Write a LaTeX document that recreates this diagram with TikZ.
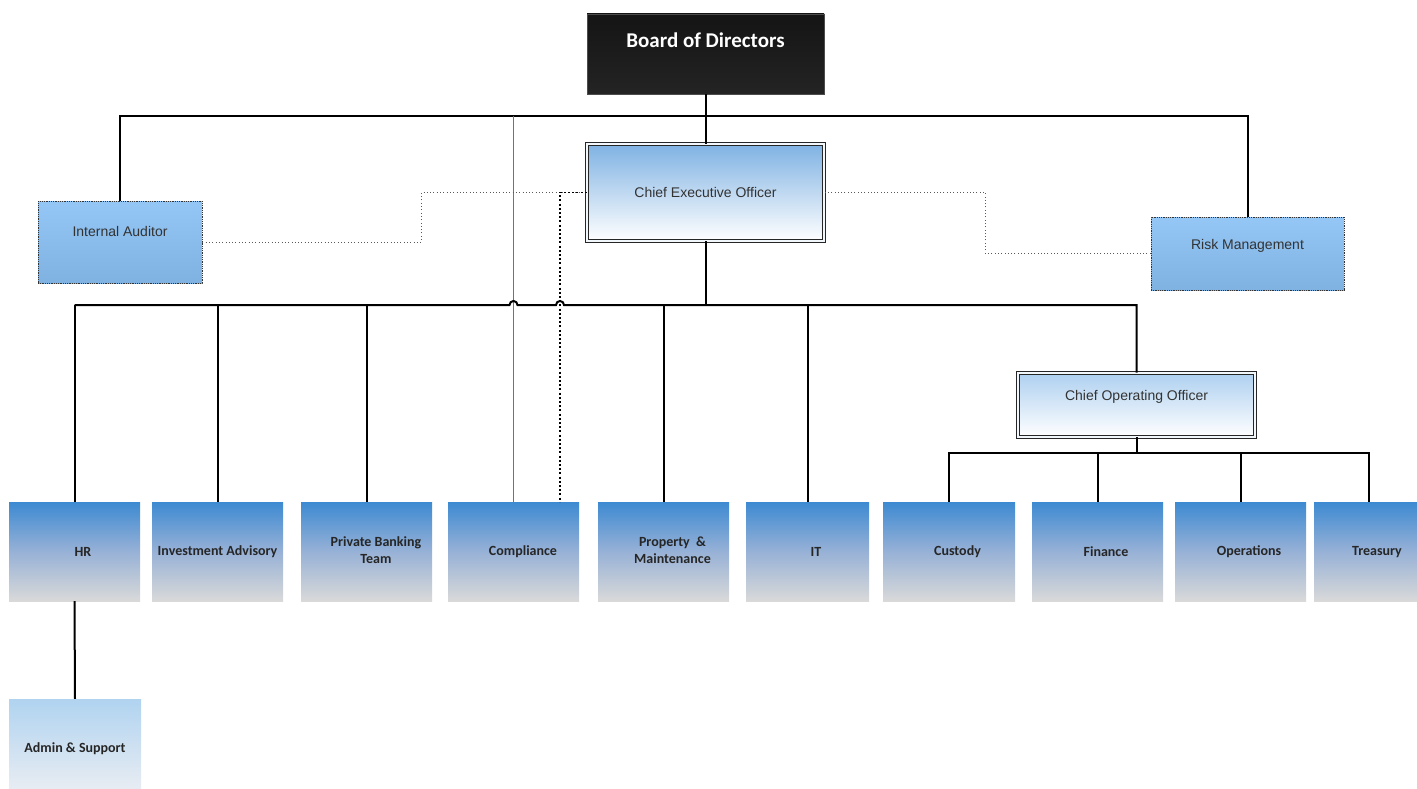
\documentclass[tikz,border=0pt]{standalone}
\usepackage{fontspec}
\setmainfont{Liberation Sans}
\newfontfamily\calibri{Carlito}
\usetikzlibrary{calc}
\definecolor{unittop}{HTML}{3D8AD2}
\definecolor{unitmid}{HTML}{97B1D6}
\definecolor{unitbot}{HTML}{D9D9D9}
\definecolor{ceotop}{HTML}{7FB2E3}
\definecolor{iatop}{HTML}{94C6F6}
\definecolor{iabot}{HTML}{7FB1E1}
\definecolor{cootop}{HTML}{AED0F0}
\definecolor{admtop}{HTML}{B0D3F0}
\definecolor{admbot}{HTML}{EDEFF3}
\newcommand\ustrut{\rule[-1pt]{0pt}{12pt}}
\begin{document}
\begin{tikzpicture}[x=1pt,y=-1pt,
  conn/.style={line width=2pt, black},
  greyline/.style={line width=1.5pt, black!55},
  thickdot/.style={line width=1.8pt, black, dash pattern=on 2pt off 2.2pt},
  thindot/.style={line width=0.8pt, black!65, dash pattern=on 0.9pt off 2.4pt},
  unit/.style={rectangle, inner sep=0pt, minimum width=131pt, minimum height=99pt,
    top color=unittop, bottom color=unitbot, middle color=unitmid,
    font=\calibri\bfseries\fontsize{14}{17}\selectfont, align=center, text=black!85},
  exec/.style={rectangle, inner sep=0pt, minimum width=237pt,
    top color=ceotop, bottom color=white, draw=black!85, line width=0.6pt,
    double=white!90!ceotop, double distance=2.2pt,
    font=\fontsize{14}{17}\selectfont, text=black!80},
  side/.style={rectangle, inner sep=0pt, top color=iatop, bottom color=iabot,
    draw=black!80, line width=0.8pt, dash pattern=on 1pt off 0.8pt,
    font=\fontsize{14}{17}\selectfont, text=black!80}
]
\useasboundingbox (0,0) rectangle (1417,789);

% nodes
\node[rectangle, inner sep=0pt, minimum width=237pt, minimum height=80pt,
  top color=black!92, bottom color=black!86, draw=black!70, line width=0.6pt,
  font=\calibri\bfseries\fontsize{21}{24}\selectfont, text=white]
  (board) at (705.5,54) {\rule[-28pt]{0pt}{28pt}Board of Directors};
\node[exec, minimum height=97pt] (ceo) at (705.5,192.5) {Chief Executive Officer};
\node[side, minimum width=164pt, minimum height=82pt] (ia) at (120,242)
  {\rule[-22pt]{0pt}{22pt}Internal Auditor};
\node[side, minimum width=193pt, minimum height=73pt] (rm) at (1247.5,253.5)
  {\rule[-19pt]{0pt}{19pt}Risk Management};
\node[exec, minimum height=64pt, top color=cootop] (coo) at (1136.5,405)
  {\rule[-20pt]{0pt}{20pt}Chief Operating Officer};

\node[unit] (hr) at (74.5,551.5) {\ustrut\hspace*{17pt}HR};
\node[unit] (inv) at (217.5,551.5) {\ustrut Investment Advisory};
\node[unit] (pb) at (366.5,551.5) {\strut\hspace*{19pt}Private Banking\\\strut\hspace*{19pt}Team};
\node[unit] (comp) at (513.5,551.5) {\ustrut\hspace*{19pt}Compliance};
\node[unit] (prop) at (663.5,551.5) {\strut\hspace*{18pt}Property~~\&\\\strut\hspace*{18pt}Maintenance};
\node[unit, minimum width=123pt] (it) at (807.5,551.5) {\ustrut\hspace*{17pt}IT};
\node[unit, minimum width=132pt] (cust) at (949,551.5) {\ustrut\hspace*{17pt}Custody};
\node[unit] (fin) at (1097.5,551.5) {\ustrut\hspace*{17pt}Finance};
\node[unit] (ops) at (1240.5,551.5) {\ustrut\hspace*{17pt}Operations};
\node[unit, minimum width=110pt] (tre) at (1369,551.5) {\ustrut\hspace*{16pt}Treasury};
\node[unit, minimum width=132pt, top color=admtop, bottom color=admbot, middle color=admtop!50!admbot]
  (admin) at (75,748.5) {\ustrut Admin \& Support};

% buses
\coordinate (b1) at (706,116);
\coordinate (b2) at (706,305);
\coordinate (b3) at (1137,453);
\coordinate (cd) at ($(comp.north)+(46.5,0)$);
\path (comp.north |- b2) coordinate (j1);
\path (cd |- b2) coordinate (j2);

% board level
\draw[conn] (board.south) -- (board.south |- b1);
\draw[conn] (ia.north) -- (ia.north |- b1) -- (rm.north |- b1) -- (rm.north);
\draw[conn] (board.south |- b1) -- (ceo.north);
\draw[greyline] (comp.north |- b1) -- (comp.north);

% dotted relations
\draw[thindot] (ia.east) -- ++(219,0) |- (ceo.west);
\draw[thindot] (rm.west) -- ++(-165,0) |- (ceo.east);
\draw[thickdot] (ceo.west) -| (cd);

% CEO level
\draw[conn] (ceo.south) -- (ceo.south |- b2);
\draw[conn] (hr.north |- b2) -- ($(j1)+(-4,0)$) arc[start angle=180, end angle=0, radius=4pt]
  -- ($(j2)+(-4,0)$) arc[start angle=180, end angle=0, radius=4pt]
  -- (coo.north |- b2) -- (coo.north);
\foreach \n in {hr,inv,pb,prop,it}
  \draw[conn] (\n.north) -- (\n.north |- b2);

% COO level
\draw[conn] (coo.south) -- (coo.south |- b3);
\draw[conn] (cust.north) -- (cust.north |- b3) -- (tre.north |- b3) -- (tre.north);
\foreach \n in {fin,ops}
  \draw[conn] (\n.north) -- (\n.north |- b3);

\draw[conn] (hr.south) -- (admin.north);
\end{tikzpicture}
\end{document}
